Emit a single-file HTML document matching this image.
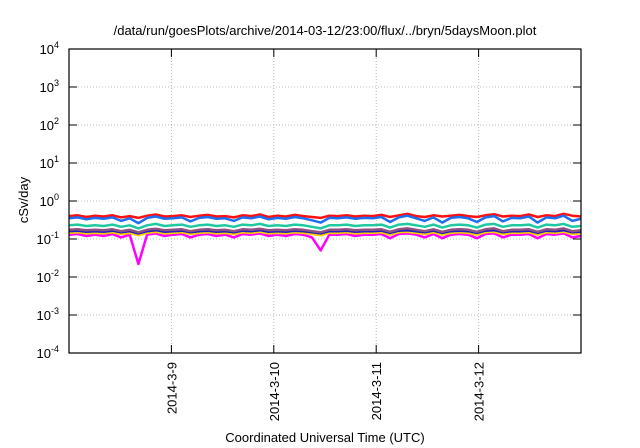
<!DOCTYPE html>
<html><head><meta charset="utf-8"><style>
body{margin:0;background:#fff;}
svg{display:block;font-family:"Liberation Sans",sans-serif;}
</style></head><body>
<svg id="c" width="640" height="448">
<text x="325" y="35" text-anchor="middle" font-size="13" fill="#000">/data/run/goesPlots/archive/2014-03-12/23:00/flux/../bryn/5daysMoon.plot</text>
<g id="grid"></g><g id="series"></g><g id="axes"></g>
<text x="325" y="442" text-anchor="middle" font-size="13">Coordinated Universal Time (UTC)</text>
<text transform="translate(28,200) rotate(-90)" text-anchor="middle" font-size="13">cSv/day</text>
</svg>
<script>
const xTickLabels=["2014-3-9","2014-3-10","2014-3-11","2014-3-12"];
const xTickDays=[1,2,3,4];
const yExps=[-4,-3,-2,-1,0,1,2,3,4];
const red=[0.40,0.42,0.38,0.41,0.39,0.42,0.37,0.40,0.36,0.41,0.44,0.39,0.40,0.42,0.38,0.41,0.43,0.39,0.40,0.37,0.42,0.40,0.44,0.38,0.41,0.39,0.43,0.40,0.38,0.36,0.41,0.40,0.42,0.39,0.41,0.40,0.43,0.38,0.42,0.46,0.40,0.38,0.42,0.39,0.41,0.43,0.40,0.38,0.42,0.45,0.39,0.41,0.40,0.44,0.38,0.42,0.40,0.46,0.41,0.39];
const blue=[0.35,0.37,0.33,0.36,0.34,0.37,0.30,0.35,0.26,0.36,0.39,0.34,0.35,0.37,0.29,0.36,0.38,0.34,0.35,0.30,0.37,0.35,0.39,0.33,0.36,0.34,0.38,0.35,0.31,0.27,0.36,0.35,0.37,0.34,0.36,0.35,0.38,0.28,0.37,0.41,0.35,0.30,0.37,0.27,0.36,0.38,0.35,0.28,0.37,0.40,0.29,0.36,0.35,0.39,0.27,0.37,0.35,0.41,0.30,0.34];
const teal=[0.23,0.24,0.22,0.23,0.22,0.24,0.21,0.23,0.19,0.23,0.25,0.22,0.23,0.24,0.21,0.23,0.24,0.22,0.23,0.21,0.24,0.23,0.25,0.22,0.23,0.22,0.24,0.23,0.21,0.19,0.23,0.23,0.24,0.22,0.23,0.23,0.24,0.20,0.24,0.25,0.23,0.21,0.24,0.20,0.23,0.24,0.23,0.20,0.24,0.25,0.21,0.23,0.23,0.24,0.20,0.24,0.23,0.25,0.21,0.22];
const purple=[0.175,0.18,0.17,0.175,0.17,0.18,0.16,0.175,0.15,0.175,0.185,0.17,0.175,0.18,0.16,0.175,0.18,0.17,0.175,0.16,0.18,0.175,0.185,0.17,0.175,0.17,0.18,0.175,0.16,0.15,0.175,0.175,0.18,0.17,0.175,0.175,0.18,0.155,0.18,0.19,0.175,0.16,0.18,0.155,0.175,0.18,0.175,0.155,0.18,0.19,0.16,0.175,0.175,0.18,0.155,0.18,0.175,0.19,0.16,0.17];
const navy=[0.16,0.165,0.155,0.16,0.155,0.165,0.15,0.16,0.14,0.16,0.17,0.155,0.16,0.165,0.15,0.16,0.165,0.155,0.16,0.15,0.165,0.16,0.17,0.155,0.16,0.155,0.165,0.16,0.15,0.14,0.16,0.16,0.165,0.155,0.16,0.16,0.165,0.145,0.165,0.17,0.16,0.15,0.165,0.145,0.16,0.165,0.16,0.145,0.165,0.17,0.15,0.16,0.16,0.165,0.145,0.165,0.16,0.17,0.15,0.155];
const yellow=[0.145,0.15,0.14,0.145,0.14,0.15,0.135,0.145,0.125,0.145,0.155,0.14,0.145,0.15,0.135,0.145,0.15,0.14,0.145,0.135,0.15,0.145,0.155,0.14,0.145,0.14,0.15,0.145,0.135,0.125,0.145,0.145,0.15,0.14,0.145,0.145,0.15,0.13,0.15,0.155,0.145,0.135,0.15,0.13,0.145,0.15,0.145,0.13,0.15,0.155,0.135,0.145,0.145,0.15,0.13,0.15,0.145,0.155,0.135,0.14];
const magenta=[0.13,0.135,0.12,0.13,0.12,0.135,0.11,0.13,0.022,0.13,0.14,0.12,0.13,0.135,0.11,0.13,0.135,0.12,0.13,0.11,0.135,0.13,0.14,0.12,0.13,0.12,0.135,0.13,0.11,0.05,0.13,0.13,0.135,0.12,0.13,0.13,0.135,0.105,0.135,0.14,0.13,0.11,0.135,0.105,0.13,0.135,0.13,0.105,0.135,0.14,0.11,0.13,0.13,0.135,0.105,0.135,0.13,0.14,0.11,0.12];
const seriesList=[[magenta,"#ff00ff"],[yellow,"#ffd000"],[navy,"#2020c0"],[purple,"#905080"],[teal,"#20c8a0"],[red,"#ff1010"],[blue,"#1e6ef0"]];
const L=69,R=581,T=49,B=353,NS="http://www.w3.org/2000/svg";
const xs=d=>L+(R-L)*d/5;
const ys=v=>B-(Math.log10(v)+4)/8*(B-T);
function el(t,a,p){const e=document.createElementNS(NS,t);for(const k in a)e.setAttribute(k,a[k]);p.appendChild(e);return e;}
const grid=document.getElementById('grid'),axes=document.getElementById('axes'),sg=document.getElementById('series');
yExps.forEach(e=>{const y=ys(Math.pow(10,e));
 if(e>-4&&e<4){const g=el('line',{x1:L,x2:R,y1:y,y2:y,stroke:'#bbb','stroke-dasharray':'1,2'},grid);
 
 }
 el('line',{x1:L,x2:L+8,y1:y,y2:y,stroke:'#000'},axes);el('line',{x1:R,x2:R-8,y1:y,y2:y,stroke:'#000'},axes);
 const t=el('text',{x:L-10,y:y+5,'text-anchor':'end','font-size':'13'},axes);
 
 
 t.textContent='10';const s=el('tspan',{dy:'-6','font-size':'9'},t);s.textContent=String(e);});
xTickDays.forEach((d,i)=>{const x=xs(d);
 const g=el('line',{x1:x,x2:x,y1:T,y2:B,stroke:'#bbb','stroke-dasharray':'1,2'},grid);
 
 
 el('line',{x1:x,x2:x,y1:B,y2:B-8,stroke:'#000'},axes);el('line',{x1:x,x2:x,y1:T,y2:T+8,stroke:'#000'},axes);
 const t=el('text',{transform:`translate(${x+5},362) rotate(-90)`,'text-anchor':'end','font-size':'13'},axes);
 
 
 t.textContent=xTickLabels[i];});
const fr=el('rect',{x:L,y:T,width:R-L,height:B-T,fill:'none',stroke:'#000','stroke-width':'1.2'},axes);


seriesList.forEach(([arr,c],k)=>{const n=arr.length;
 const pts=arr.map((v,i)=>xs(i*5/(n-1)).toFixed(1)+','+ys(v).toFixed(1)).join(' ');
 const p=el('polyline',{points:pts,fill:'none',stroke:c,'stroke-width':'2.5','stroke-linejoin':'round'},sg);
 
 });
</script>
</body></html>
